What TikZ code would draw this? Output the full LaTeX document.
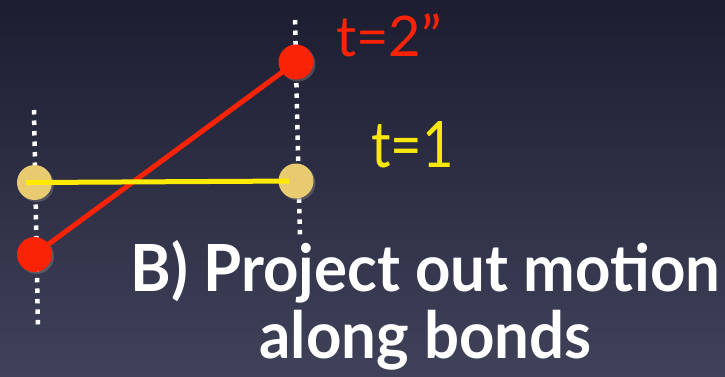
\documentclass[tikz,border=0pt]{standalone}
\usepackage{fontspec}
\setmainfont{Lato}
\newfontfamily\capfont[FakeStretch=0.95]{Lato}
\newfontfamily\onefont[FakeStretch=0.85]{Lato}
\usetikzlibrary{shadows}

\definecolor{bgtop}{RGB}{28,29,49}
\definecolor{bgbot}{RGB}{64,66,90}
\definecolor{atomred}{RGB}{250,35,5}
\definecolor{atomgold}{RGB}{232,202,112}
\definecolor{bondyellow}{RGB}{255,234,0}
\definecolor{labelyellow}{RGB}{250,232,10}

\tikzset{
  atom/.style={circle, inner sep=0pt, minimum size=35pt,
    drop shadow={opacity=0.45, shadow xshift=2pt, shadow yshift=-2pt}},
  redatom/.style={atom, fill=atomred},
  goldatom/.style={atom, fill=atomgold},
  guide/.style={white, line width=4.5pt, dash pattern=on 4.5pt off 6pt},
  bond/.style={line width=5pt},
  tlabel/.style={anchor=base west, inner sep=0pt},
  title/.style={anchor=base, inner sep=0pt, text=white, font=\capfont\bfseries\fontsize{65}{65}\selectfont},
}

\begin{document}
\begin{tikzpicture}[x=1pt, y=-1pt]
  % background
  \shade[top color=bgtop, bottom color=bgbot] (0,0) rectangle (725,377);
  \useasboundingbox (0,0) rectangle (725,377);

  % dotted guide lines
  \coordinate (gl1) at (34,110);
  \coordinate (gl2) at (38,330);
  \coordinate (gr1) at (295,20);
  \coordinate (gr2) at (300,240);
  \draw[guide] (gl1) -- (gl2);
  \draw[guide] (gr1) -- (gr2);

  % atoms
  \node[redatom] (r1) at (34.5,254.5) {};
  \node[redatom] (r2) at (296,62) {};
  \node[goldatom] (y1) at (34.5,182.5) {};
  \node[goldatom] (y2) at (296,181) {};

  % bonds
  \draw[bond, atomred, shorten >=14pt] (r1.center) -- (r2.center);
  \draw[bond, bondyellow, shorten <=-8.5pt, shorten >=7pt] (y1.center) -- (y2.center);

  % time labels
  \node[tlabel, text=atomred, font=\fontsize{56}{56}\selectfont] (t2) at (336,57) {t=2”};
  \node[tlabel, text=labelyellow, font=\onefont\fontsize{64}{64}\selectfont] (t1) at (371,167) {t=1};

  % caption
  \node[title] (cap1) at (425.5,291) {B) Project out motion};
  \node[title] (cap2) at (425.5,358) {along bonds};
\end{tikzpicture}
\end{document}
